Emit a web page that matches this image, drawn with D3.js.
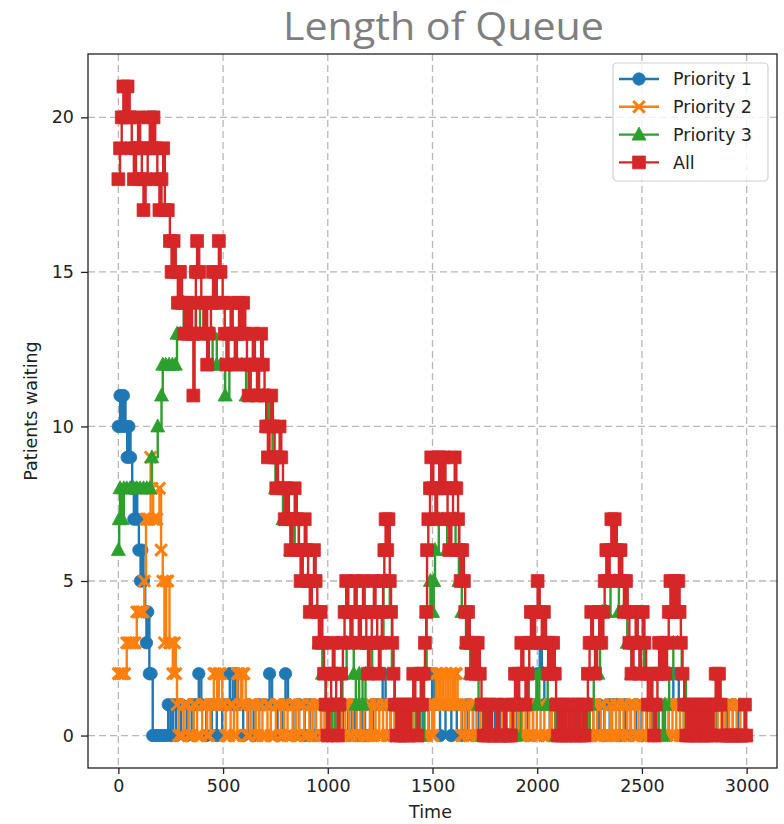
<!DOCTYPE html>
<html><head><meta charset="utf-8">
<script src="https://cdn.jsdelivr.net/npm/d3@7"></script>
<style>body{margin:0;background:#fff;}</style>
</head><body><svg id="chart" width="784" height="824"></svg>
<script>
const timeTicks = [0,500,1000,1500,2000,2500,3000];
const queueTicks = [0,5,10,15,20];
const seriesNames = ["Priority 1","Priority 2","Priority 3","All"];
const seriesColors = ["#1f77b4","#ff7f0e","#2ca02c","#d62728"];
const seriesMarkers = ["circle","x","triangle","square"];

const priority1 = [[0,10],[8,11],[16,10],[24,11],[34,10],[42,9],[50,10],[58,9],[66,8],[74,7],[82,8],[90,7],[98,6],[106,5],[112,6],[120,5],[128,4],[134,3],[140,4],[148,2],[156,2],[164,0],[180,0],[196,0],[212,0],[228,0],[238,1],[250,0],[262,1],[276,0],[300,1],[326,0],[350,1],[372,1],[384,2],[396,1],[420,0],[446,1],[470,0],[496,1],[520,1],[532,2],[546,1],[558,2],[570,1],[596,0],[620,1],[646,0],[672,1],[700,1],[722,2],[734,1],[760,0],[784,1],[798,2],[810,1],[836,0],[862,1],[890,0],[916,1],[942,0],[968,1],[994,0],[1020,1],[1046,0],[1072,1],[1098,0],[1114,1],[1130,0],[1146,0],[1162,1],[1178,0],[1194,0],[1216,1],[1240,1],[1262,2],[1276,1],[1300,0],[1326,1],[1352,0],[1378,1],[1404,0],[1430,1],[1456,0],[1482,1],[1498,2],[1510,1],[1536,0],[1562,1],[1590,0],[1616,1],[1642,0],[1668,1],[1694,0],[1720,1],[1746,0],[1772,1],[1798,0],[1824,1],[1850,0],[1876,1],[1902,0],[1928,1],[1954,0],[1980,1],[2000,2],[2012,3],[2022,2],[2034,1],[2060,0],[2086,1],[2112,0],[2138,1],[2164,0],[2190,1],[2216,0],[2242,1],[2268,0],[2294,1],[2320,0],[2346,1],[2366,1],[2380,1],[2394,0],[2420,1],[2446,0],[2472,1],[2498,0],[2524,1],[2550,0],[2576,1],[2602,0],[2628,1],[2650,2],[2664,2],[2676,1],[2700,0],[2726,1],[2752,0],[2778,1],[2804,0],[2830,1],[2856,0],[2882,1],[2908,0],[2934,1],[2960,0],[2990,0]];

const priority2 = [[0,2],[10,2],[20,2],[30,2],[40,3],[50,3],[60,3],[70,3],[80,3],[88,4],[98,4],[108,4],[118,4],[124,5],[132,7],[140,7],[148,7],[154,9],[160,8],[166,7],[174,7],[184,7],[196,8],[204,6],[212,5],[220,3],[228,5],[236,5],[244,3],[252,3],[260,2],[268,3],[274,2],
[280,1],[288,0],[296,0],[304,0],[312,1],[320,1],[328,1],[336,0],[344,0],[352,0],[360,1],[368,1],[376,0],[384,0],[392,0],[400,1],[408,1],[416,1],[424,0],[432,0],[440,1],[448,1],[456,2],[464,2],[472,1],[480,2],[488,2],[496,1],[504,1],[512,0],[520,0],[528,0],[536,1],[544,1],[552,0],[560,0],[568,2],[576,2],[584,1],[592,2],[600,2],[608,1],[616,0],[624,0],[632,1],[640,1],[648,1],[656,0],[664,0],[672,1],[680,1],[688,0],[696,0],[704,0],[712,1],[720,1],[728,0],[736,0],[744,0],[752,1],[760,1],[768,1],[776,0],[784,0],[792,1],[800,1],[808,0],[816,0],[824,0],[832,1],[840,1],[848,0],[856,0],[864,1],[872,1],[880,1],[888,0],[896,0],[904,0],[912,1],[920,1],[928,0],[936,0],[944,1],[952,1],[960,1],[968,0],[976,0],[984,1],[992,1],[1000,0],
[1012,1],[1021,1],[1030,0],[1039,0],[1048,1],[1057,1],[1066,0],[1075,0],[1084,1],[1093,1],[1102,0],[1111,0],[1120,1],[1129,1],[1138,0],[1147,0],[1156,1],[1165,1],[1174,0],[1183,0],[1192,0],[1201,1],[1210,0],[1219,0],[1228,1],[1237,1],[1246,0],[1255,0],[1264,1],[1273,1],[1282,0],[1291,0],[1300,1],[1309,1],[1318,0],[1327,0],[1336,1],[1345,1],[1354,0],[1363,0],[1372,0],[1381,1],[1390,0],[1399,0],[1408,1],[1417,1],[1426,0],[1435,0],[1444,1],[1453,1],[1462,0],[1471,0],[1480,1],[1489,1],[1498,0],[1503,0],[1508,1],[1516,2],[1522,2],[1528,1],[1533,1],[1538,2],[1544,2],[1550,1],[1556,1],[1562,2],[1568,2],[1574,1],[1580,1],[1586,2],[1592,2],[1598,1],[1603,1],[1608,2],[1614,2],[1620,1],[1629,1],[1638,0],[1647,0],[1656,1],[1665,1],[1674,0],[1683,0],[1692,1],[1701,1],[1710,0],
[1719,0],[1728,1],[1737,1],[1746,0],[1755,0],[1764,1],[1773,1],[1782,0],[1791,0],[1800,0],[1809,1],[1818,0],[1827,0],[1836,1],[1845,1],[1854,0],[1863,0],[1872,1],[1881,1],[1890,0],[1899,0],[1908,1],[1917,1],[1926,0],[1935,0],[1944,1],[1953,1],[1962,0],[1971,0],[1980,1],[1989,1],[1998,0],[2007,0],[2016,1],[2025,1],[2034,0],[2043,0],[2052,0],[2061,1],[2070,0],[2079,0],[2088,1],[2097,1],[2106,0],[2115,0],[2124,1],[2133,1],[2142,0],[2151,0],[2160,1],[2169,1],[2178,0],[2187,0],[2196,1],[2205,1],[2214,0],[2223,0],[2232,1],[2241,1],[2250,0],[2259,0],[2268,1],[2277,1],[2286,0],[2295,0],[2304,1],[2313,1],[2322,0],[2331,0],[2340,0],[2349,1],[2358,0],[2367,0],[2376,1],[2385,1],[2394,0],[2403,0],[2412,1],[2421,1],[2430,0],[2439,0],[2448,1],[2457,1],[2466,0],[2475,0],[2484,1],[2493,1],[2502,0],[2511,0],[2520,1],[2529,1],[2538,0],[2547,0],[2556,1],[2565,1],[2574,0],[2583,0],[2592,0],[2601,1],[2610,0],[2619,0],[2628,1],[2637,1],[2646,0],[2655,0],[2664,1],[2673,1],[2682,0],[2691,0],[2700,1],[2709,1],[2718,0],[2727,0],[2736,1],[2745,1],[2754,0],[2763,0],[2772,1],[2781,1],[2790,0],[2799,0],[2808,1],[2817,1],[2826,0],[2835,0],[2844,1],[2853,1],[2862,0],[2871,0],[2880,1],[2889,1],[2898,0],[2907,0],[2916,1],[2925,1],[2934,0],[2943,0],[2952,1],[2961,1],[2970,0],[2979,0],[2988,1],[2996,0]];

const priority3 = [[0,6],[4,7],[8,8],[18,7],[26,8],[40,8],[56,8],[72,8],[88,8],[104,8],[120,8],[136,8],[150,8],[160,9],[188,10],[206,11],[212,12],[226,12],[242,12],[258,12],[272,12],[280,13],[296,13],[312,14],[330,13],[350,13],[370,14],[390,13],[410,13],[430,12],[450,13],[470,12],[490,12],[510,11],[530,12],[550,12],[570,12],[590,12],[610,11],[630,11],[650,11],[670,11],[690,11],[706,10],[716,11],[724,10],[736,9],[750,8],[768,8],[786,7],[804,7],[822,6],[842,7],[862,6],[880,5],[900,5],[920,4],[940,4],[958,3],[974,2],[990,1],[1000,0],[1020,1],[1036,0],[1054,1],[1070,2],[1090,3],[1110,3],[1124,2],[1134,1],[1150,2],[1166,1],[1180,2],[1196,2],[1212,3],[1230,3],[1250,3],[1266,5],[1280,5],[1296,4],[1306,2],[1318,1],[1330,0],[1360,0],[1390,0],[1420,1],[1440,0],[1460,2],[1472,4],[1490,5],[1500,4],[1506,5],[1512,6],[1530,7],[1550,7],[1570,6],[1590,6],[1610,7],[1626,5],[1640,4],[1660,3],[1680,2],[1700,2],[1720,1],[1740,0],[1780,0],[1820,0],[1860,0],[1900,0],[1920,1],[1940,1],[1960,2],[1980,2],[1996,1],[2010,2],[2030,2],[2050,1],[2070,1],[2090,0],[2130,0],[2170,0],[2210,0],[2250,1],[2270,2],[2290,2],[2300,3],[2310,4],[2330,4],[2350,5],[2370,5],[2390,4],[2410,4],[2430,3],[2450,2],[2470,2],[2490,3],[2510,2],[2530,1],[2560,0],[2580,1],[2600,0],[2610,1],[2630,2],[2650,3],[2670,3],[2690,2],[2710,0],[2750,0],[2800,0],[2850,0],[2900,0],[2950,0],[2998,0]];

const allPatients = [[0,18],[8,19],[16,20],[24,21],[34,20],[44,21],[54,20],[64,19],[74,18],[84,19],[94,20],[104,19],[112,18],[120,17],[130,18],[140,19],[150,20],[160,19],[168,20],[176,19],[186,18],[196,17],[206,18],[214,19],[222,17],[236,17],[246,16],[254,15],[264,16],[274,15],[284,14],[294,15],[304,14],[314,13],[324,14],[334,13],[344,14],[352,13],[358,11],[364,13],[370,15],[376,16],[386,15],[396,14],[406,13],[416,14],[424,12],[432,13],[442,14],[452,15],[462,14],[470,15],[480,16],[488,15],[498,14],[508,13],[516,12],[526,13],[536,14],[546,13],[556,12],[566,13],[576,14],[586,13],[596,14],[606,13],[614,12],[622,11],[632,12],[642,13],[652,12],[662,11],[672,12],[682,13],[690,12],[698,11],[706,10],[714,9],[722,10],[730,11],[738,10],[746,9],[754,8],[762,9],[770,10],[778,9],[786,8],[794,7],[804,8],[814,7],[822,6],[832,7],[842,8],[852,7],[862,6],[870,5],[880,6],[890,7],[898,6],[906,5],[914,4],[924,5],[934,6],[942,5],[950,4],[958,3],[966,4],[974,3],[982,2],[990,1],[998,0],[1008,1],[1016,2],[1024,3],[1032,2],[1040,1],[1048,0],[1056,1],[1064,2],[1072,3],[1080,4],[1088,5],[1098,4],[1108,3],[1118,4],[1128,5],[1138,4],[1148,3],[1158,4],[1168,5],[1176,4],[1184,3],[1192,2],[1200,3],[1210,4],[1220,5],[1228,4],[1236,3],[1244,2],[1252,3],[1258,4],[1264,5],[1270,6],[1276,7],[1284,6],[1290,7],[1296,5],[1302,4],[1308,3],[1314,2],[1320,1],[1328,0],[1338,1],[1348,0],[1358,1],[1368,0],[1378,1],[1388,0],[1398,1],[1408,2],[1418,1],[1428,0],[1436,1],[1444,2],[1450,1],[1458,2],[1464,3],[1470,4],[1474,6],[1480,7],[1488,8],[1494,9],[1504,8],[1514,7],[1522,8],[1532,9],[1542,8],[1552,9],[1562,8],[1572,7],[1580,6],[1590,7],[1598,8],[1606,9],[1614,8],[1622,7],[1628,6],[1634,5],[1642,6],[1650,5],[1656,4],[1662,3],[1670,4],[1678,3],[1686,2],[1696,3],[1706,2],[1716,3],[1726,2],[1734,1],[1744,0],[1754,1],[1764,0],[1774,1],[1784,0],[1796,0],[1808,1],[1818,0],[1830,0],[1842,1],[1852,0],[1864,0],[1874,0],[1884,1],[1894,2],[1904,1],[1914,2],[1924,3],[1934,2],[1944,1],[1954,2],[1962,3],[1970,4],[1980,3],[1990,4],[2002,5],[2012,4],[2022,3],[2032,4],[2042,3],[2052,2],[2060,3],[2068,2],[2076,3],[2084,2],[2090,1],[2098,0],[2108,1],[2118,0],[2128,1],[2138,0],[2150,1],[2160,0],[2172,1],[2182,0],[2194,1],[2204,0],[2216,1],[2226,0],[2234,1],[2242,2],[2250,3],[2258,4],[2266,3],[2276,2],[2286,3],[2296,4],[2306,3],[2316,4],[2322,5],[2330,6],[2338,5],[2346,6],[2354,7],[2362,6],[2370,7],[2380,6],[2390,5],[2398,6],[2406,5],[2414,4],[2424,5],[2432,4],[2440,3],[2450,2],[2460,3],[2470,4],[2480,3],[2488,2],[2496,3],[2504,4],[2512,3],[2520,2],[2528,1],[2540,2],[2550,1],[2558,0],[2566,1],[2574,2],[2582,3],[2592,2],[2602,3],[2612,2],[2620,3],[2628,4],[2636,5],[2646,4],[2656,5],[2666,4],[2674,5],[2680,4],[2686,3],[2694,2],[2702,1],[2712,0],[2722,1],[2732,0],[2742,1],[2752,0],[2762,1],[2772,0],[2782,1],[2792,0],[2802,1],[2812,0],[2822,1],[2832,0],[2842,1],[2852,2],[2860,1],[2868,2],[2876,1],[2884,0],[2896,0],[2910,0],[2924,0],[2938,0],[2952,0],[2966,0],[2980,0],[2992,1],[2998,0]];

const seriesData = [priority1, priority2, priority3, allPatients];

const L = 88, R = 777, T = 54, B = 768;
const FONT = "'DejaVu Sans', sans-serif";
const svg = d3.select("#chart");

const x = d3.scaleLinear().domain([-145, 3145]).range([L, R]);
const y = d3.scaleLinear().domain([-1.05, 22.05]).range([B, T]);

// title
svg.append("text").attr("x", 283).attr("y", 40)
  .attr("font-family", "'Open Sans', 'Noto Sans', sans-serif").attr("font-size", 38)
  .attr("fill", "#7f7f7f").attr("textLength", 321).attr("lengthAdjust", "spacingAndGlyphs")
  .text("Length of Queue");

// grid
const grid = svg.append("g");
grid.selectAll("line.gx").data(timeTicks).join("line")
  .attr("x1", d => x(d)).attr("x2", d => x(d)).attr("y1", T).attr("y2", B)
  .attr("stroke", "#b8b8b8").attr("stroke-width", 1.3).attr("stroke-dasharray", "7,4");
grid.selectAll("line.gy").data(queueTicks).join("line")
  .attr("y1", d => y(d)).attr("y2", d => y(d)).attr("x1", L).attr("x2", R)
  .attr("stroke", "#b8b8b8").attr("stroke-width", 1.3).attr("stroke-dasharray", "7,4");

// marker paths
function markerPath(type) {
  if (type === "circle") return d3.symbol(d3.symbolCircle, Math.PI * 6.2 * 6.2)();
  if (type === "square") return "M-6.4,-6.4H6.4V6.4H-6.4Z";
  if (type === "triangle") return "M0,-7.5L7,5.5L-7,5.5Z";
  return "M-5.8,-5.8L5.8,5.8M-5.8,5.8L5.8,-5.8";
}

const plot = svg.append("g");
const line = d3.line().x(d => x(d[0])).y(d => y(d[1])).curve(d3.curveStepAfter);

seriesData.forEach((data, i) => {
  const g = plot.append("g");
  const col = seriesColors[i];
  g.append("path").datum(data).attr("d", line)
    .attr("fill", "none").attr("stroke", col).attr("stroke-width", 2.4)
    .attr("stroke-linejoin", "round");
  const type = seriesMarkers[i];
  const p = markerPath(type);
  g.selectAll("path.m").data(data).join("path").attr("class", "m")
    .attr("transform", d => `translate(${x(d[0])},${y(d[1])})`)
    .attr("d", p)
    .attr("fill", type === "x" ? "none" : col)
    .attr("stroke", col)
    .attr("stroke-width", type === "x" ? 3 : 0.8);
});

// axes
const xAxis = d3.axisBottom(x).tickValues(timeTicks).tickFormat(d3.format("d")).tickSize(6).tickPadding(6);
const yAxis = d3.axisLeft(y).tickValues(queueTicks).tickFormat(d3.format("d")).tickSize(7).tickPadding(7);
const gx = svg.append("g").attr("transform", `translate(0,${B})`).call(xAxis);
const gy = svg.append("g").attr("transform", `translate(${L},0)`).call(yAxis);
[gx, gy].forEach(g => {
  g.select(".domain").remove();
  g.selectAll(".tick line").attr("stroke", "#222").attr("stroke-width", 1.3);
  g.selectAll(".tick text").attr("font-family", FONT).attr("font-size", 17.5).attr("fill", "#222");
});

// frame
svg.append("rect").attr("x", L).attr("y", T).attr("width", R - L).attr("height", B - T)
  .attr("fill", "none").attr("stroke", "#222").attr("stroke-width", 1.3);

// axis labels
svg.append("text").attr("x", (L + R) / 2 - 2).attr("y", 818).attr("text-anchor", "middle")
  .attr("font-family", FONT).attr("font-size", 17.5).attr("fill", "#222").text("Time");
svg.append("text").attr("transform", `translate(37,${(T + B) / 2}) rotate(-90)`)
  .attr("text-anchor", "middle").attr("font-family", FONT).attr("font-size", 17.5)
  .attr("fill", "#222").text("Patients waiting");

// legend
const lg = svg.append("g");
lg.append("rect").attr("x", 613).attr("y", 63).attr("width", 155).attr("height", 118)
  .attr("rx", 4).attr("fill", "#fff").attr("fill-opacity", 0.8)
  .attr("stroke", "#d0d0d0").attr("stroke-width", 1.2);
seriesNames.forEach((name, i) => {
  const yy = 79 + i * 27.8;
  const col = seriesColors[i];
  lg.append("line").attr("x1", 619).attr("x2", 659).attr("y1", yy).attr("y2", yy)
    .attr("stroke", col).attr("stroke-width", 2.4);
  const type = seriesMarkers[i];
  lg.append("path").attr("transform", `translate(639,${yy})`).attr("d", markerPath(type))
    .attr("fill", type === "x" ? "none" : col).attr("stroke", col)
    .attr("stroke-width", type === "x" ? 3 : 0.8);
  lg.append("text").attr("x", 673).attr("y", yy).attr("dy", "0.35em")
    .attr("font-family", FONT).attr("font-size", 17.5).attr("fill", "#222").text(name);
});
</script></body></html>
